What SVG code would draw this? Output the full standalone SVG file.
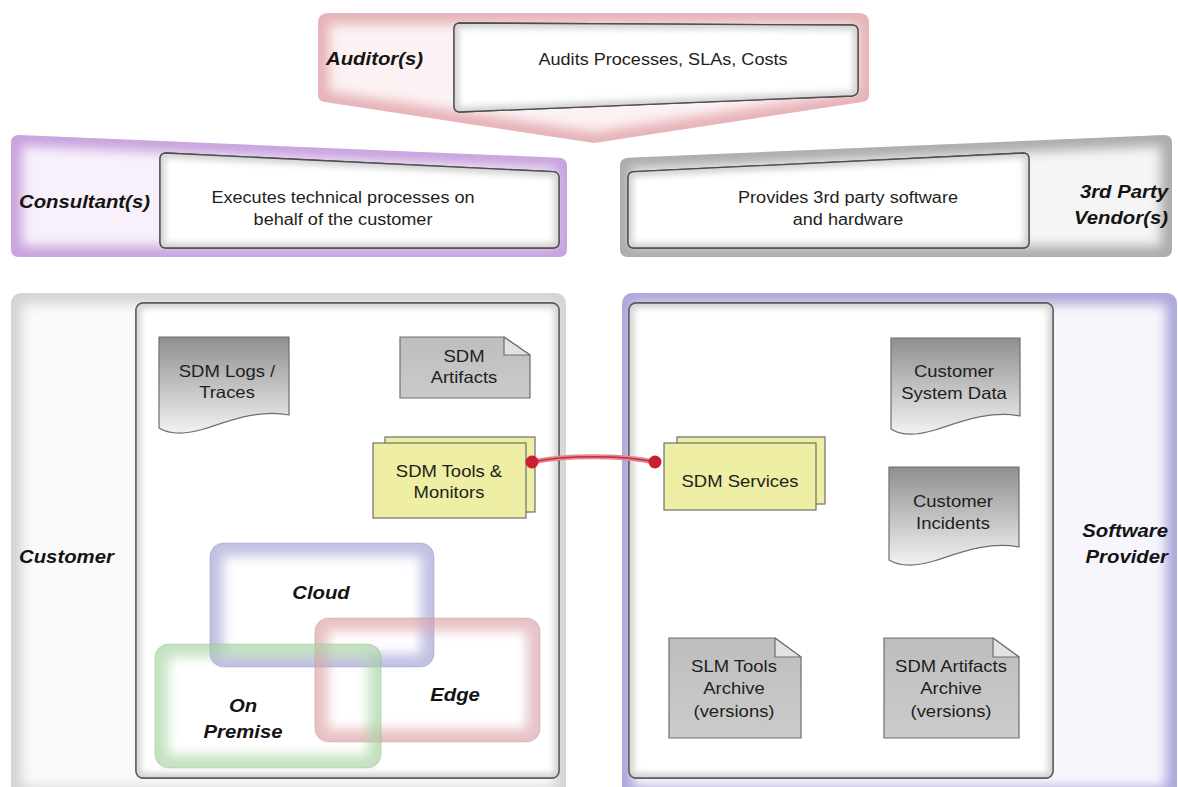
<svg xmlns="http://www.w3.org/2000/svg" width="1178" height="787" viewBox="0 0 1178 787">
<style>
  .lbl{font-family:"Liberation Sans",Arial,sans-serif;font-size:18px;font-weight:bold;font-style:italic;fill:#141414}
  .txt{font-family:"Liberation Sans",Arial,sans-serif;font-size:16px;fill:#1e1e1e}
  .doc{font-family:"Liberation Sans",Arial,sans-serif;font-size:16.5px;fill:#1e1e1e}
  .inner{fill:#ffffff;stroke:#4e4e4e;stroke-width:1.3}
  .ishade{fill:none;stroke:#d2d2d2;stroke-width:10}
  .yel{fill:#eeeea4;stroke:#6e6e6e;stroke-width:1.2}
  .docshape{fill:url(#gDoc);stroke:#6e6e6e;stroke-width:1.2}
  .note{fill:url(#gNote);stroke:#6e6e6e;stroke-width:1.2}
  .fold{fill:#e2e2e2;stroke:#6e6e6e;stroke-width:1.2;stroke-linejoin:round}
  .glow{fill:none;stroke-width:22}
  .zone{fill:none;stroke-width:26;stroke-opacity:0.65}
  .zline{fill:none;stroke-width:1.2;stroke-opacity:0.35}
</style>
<defs>
  <filter id="blur6" x="-10%" y="-10%" width="120%" height="120%"><feGaussianBlur stdDeviation="6"/></filter>
  <filter id="blur3" x="-10%" y="-10%" width="120%" height="120%"><feGaussianBlur stdDeviation="3"/></filter>
  <linearGradient id="gDoc" x1="0" y1="0" x2="0" y2="1">
    <stop offset="0" stop-color="#8f8f8f"/>
    <stop offset="1" stop-color="#f2f2f2"/>
  </linearGradient>
  <linearGradient id="gNote" x1="0" y1="0" x2="0" y2="1">
    <stop offset="0" stop-color="#bdbdbd"/>
    <stop offset="1" stop-color="#cbcbcb"/>
  </linearGradient>

  <!-- outer band shapes -->
  <path id="pAud" d="M328,13 H859 Q869,13 869,23 V95 Q869,101 862,102 L594,143 L325,102 Q318,101 318,95 V23 Q318,13 328,13 Z"/>
  <path id="pCon" d="M19,135 L559,157.7 Q567,158 567,166 V249 Q567,257 559,257 H19 Q11,257 11,249 V143 Q11,135 19,135 Z"/>
  <path id="pVen" d="M628,157.7 L1164,135 Q1172,135 1172,143 V249 Q1172,257 1164,257 H628 Q620,257 620,249 V166 Q620,158 628,157.7 Z"/>
  <rect id="rCus" x="11" y="293" width="555" height="505" rx="10"/>
  <rect id="rPro" x="622" y="293" width="555" height="505" rx="10"/>

  <!-- inner description boxes -->
  <path id="iAud" d="M460,23 L852,25 Q858,25 858,31 V90 Q858,95 852,96 L460,112 Q454,112 454,106 V29 Q454,23 460,23 Z"/>
  <path id="iCon" d="M166,153 L553,171.7 Q559,172 559,178 V242 Q559,248 553,248 H166 Q160,248 160,242 V159 Q160,153 166,153 Z"/>
  <path id="iVen" d="M634,171.7 L1023,153 Q1029,153 1029,159 V242 Q1029,248 1023,248 H634 Q628,248 628,242 V178 Q628,172 634,171.7 Z"/>
  <rect id="iCus" x="136" y="303" width="423" height="475" rx="7"/>
  <rect id="iPro" x="629" y="303" width="424" height="475" rx="7"/>

  <!-- deployment zones -->
  <rect id="zCloud" x="210" y="543" width="224" height="124" rx="14"/>
  <rect id="zEdge" x="315" y="618" width="225" height="124" rx="14"/>
  <rect id="zPrem" x="155" y="644" width="226" height="124" rx="14"/>

  <clipPath id="cAud"><use href="#pAud"/></clipPath>
  <clipPath id="cCon"><use href="#pCon"/></clipPath>
  <clipPath id="cVen"><use href="#pVen"/></clipPath>
  <clipPath id="cCus"><use href="#rCus"/></clipPath>
  <clipPath id="cPro"><use href="#rPro"/></clipPath>
  <clipPath id="ciAud"><use href="#iAud"/></clipPath>
  <clipPath id="ciCon"><use href="#iCon"/></clipPath>
  <clipPath id="ciVen"><use href="#iVen"/></clipPath>
  <clipPath id="ciCus"><use href="#iCus"/></clipPath>
  <clipPath id="ciPro"><use href="#iPro"/></clipPath>
  <clipPath id="czCloud"><use href="#zCloud"/></clipPath>
  <clipPath id="czEdge"><use href="#zEdge"/></clipPath>
  <clipPath id="czPrem"><use href="#zPrem"/></clipPath>
</defs>

<rect width="1178" height="787" fill="#ffffff"/>

<!-- Auditor band -->
<g id="auditor">
  <use href="#pAud" fill="#fcf2f3"/>
  <use href="#pAud" class="glow" stroke="#e6b2b8" filter="url(#blur6)" clip-path="url(#cAud)"/>
  <use href="#iAud" class="inner"/>
  <use href="#iAud" class="ishade" filter="url(#blur3)" clip-path="url(#ciAud)"/>
  <use href="#iAud" fill="none" stroke="#4e4e4e" stroke-width="1.3"/>
  <text class="lbl" transform="translate(326 65) scale(1.13 1)">Auditor(s)</text>
  <text class="txt" text-anchor="middle" transform="translate(663 65) scale(1.13 1)">Audits Processes, SLAs, Costs</text>
</g>

<!-- Consultant band -->
<g id="consultant">
  <use href="#pCon" fill="#f8f1fb"/>
  <use href="#pCon" class="glow" stroke="#c8a3dd" filter="url(#blur6)" clip-path="url(#cCon)"/>
  <use href="#iCon" class="inner"/>
  <use href="#iCon" class="ishade" filter="url(#blur3)" clip-path="url(#ciCon)"/>
  <use href="#iCon" fill="none" stroke="#4e4e4e" stroke-width="1.3"/>
  <text class="lbl" transform="translate(19 208) scale(1.13 1)">Consultant(s)</text>
  <text class="txt" text-anchor="middle" transform="translate(343 203) scale(1.13 1)"><tspan x="0">Executes technical processes on</tspan><tspan x="0" dy="22">behalf of the customer</tspan></text>
</g>

<!-- 3rd party vendor band -->
<g id="vendor">
  <use href="#pVen" fill="#f5f5f5"/>
  <use href="#pVen" class="glow" stroke="#acacac" filter="url(#blur6)" clip-path="url(#cVen)"/>
  <use href="#iVen" class="inner"/>
  <use href="#iVen" class="ishade" filter="url(#blur3)" clip-path="url(#ciVen)"/>
  <use href="#iVen" fill="none" stroke="#4e4e4e" stroke-width="1.3"/>
  <text class="txt" text-anchor="middle" transform="translate(848 203) scale(1.13 1)"><tspan x="0">Provides 3rd party software</tspan><tspan x="0" dy="22">and hardware</tspan></text>
  <text class="lbl" text-anchor="end" transform="translate(1168 198) scale(1.13 1)"><tspan x="0">3rd Party</tspan><tspan x="0" dy="26">Vendor(s)</tspan></text>
</g>

<!-- Customer container -->
<g id="customer">
  <use href="#rCus" fill="#fafafa"/>
  <use href="#rCus" class="glow" stroke="#d4d4d4" filter="url(#blur6)" clip-path="url(#cCus)"/>
  <use href="#iCus" class="inner"/>
  <use href="#iCus" class="ishade" stroke="#e6e6e6" filter="url(#blur3)" clip-path="url(#ciCus)"/>
  <use href="#iCus" fill="none" stroke="#5a5a5a" stroke-width="1.3"/>
  <text class="lbl" transform="translate(19 563) scale(1.13 1)">Customer</text>
</g>

<!-- Software provider container -->
<g id="provider">
  <use href="#rPro" fill="#f7f6fc"/>
  <use href="#rPro" class="glow" stroke="#aca7da" filter="url(#blur6)" clip-path="url(#cPro)"/>
  <use href="#iPro" class="inner"/>
  <use href="#iPro" class="ishade" stroke="#e6e6ee" filter="url(#blur3)" clip-path="url(#ciPro)"/>
  <use href="#iPro" fill="none" stroke="#5a5a5a" stroke-width="1.3"/>
  <text class="lbl" text-anchor="end" transform="translate(1168 537) scale(1.13 1)"><tspan x="0">Software</tspan><tspan x="0" dy="26">Provider</tspan></text>
</g>

<!-- Customer deployment zones -->
<g id="cloud">
  <use href="#zCloud" class="zone" stroke="#a0a0d6" filter="url(#blur6)" clip-path="url(#czCloud)"/>
  <use href="#zCloud" class="zline" stroke="#8484c0"/>
  <text class="lbl" text-anchor="middle" transform="translate(321 599) scale(1.13 1)">Cloud</text>
</g>
<g id="edge">
  <use href="#zEdge" class="zone" stroke="#dba2a6" filter="url(#blur6)" clip-path="url(#czEdge)"/>
  <use href="#zEdge" class="zline" stroke="#c08488"/>
  <text class="lbl" text-anchor="middle" transform="translate(455 701) scale(1.13 1)">Edge</text>
</g>
<g id="on-premise">
  <use href="#zPrem" class="zone" stroke="#a4d29e" filter="url(#blur6)" clip-path="url(#czPrem)"/>
  <use href="#zPrem" class="zline" stroke="#84b87e"/>
  <text class="lbl" text-anchor="middle" transform="translate(243 712) scale(1.13 1)"><tspan x="0">On</tspan><tspan x="0" dy="26">Premise</tspan></text>
</g>

<!-- Customer side items -->
<g id="sdm-logs">
  <path class="docshape" d="M159,337 H289 V415 C259,409 229,421 204,429 C184,435 169,434 159,428 Z"/>
  <text class="doc" text-anchor="middle" transform="translate(227 377) scale(1.12 1)"><tspan x="0">SDM Logs /</tspan><tspan x="0" dy="21">Traces</tspan></text>
</g>
<g id="sdm-artifacts">
  <path class="note" d="M400,337 H504 L530,355 V398 H400 Z"/>
  <path class="fold" d="M504,337 L530,355 H504 Z"/>
  <text class="doc" text-anchor="middle" transform="translate(464 362) scale(1.12 1)"><tspan x="0">SDM</tspan><tspan x="0" dy="21">Artifacts</tspan></text>
</g>
<g id="sdm-tools">
  <rect class="yel" x="385" y="437" width="150" height="75"/>
  <rect class="yel" x="373" y="443" width="153" height="75"/>
  <text class="doc" text-anchor="middle" transform="translate(449 477) scale(1.12 1)"><tspan x="0">SDM Tools &amp;</tspan><tspan x="0" dy="21">Monitors</tspan></text>
</g>

<!-- Provider side items -->
<g id="sdm-services">
  <rect class="yel" x="677" y="437" width="148" height="67"/>
  <rect class="yel" x="664" y="443" width="152" height="67"/>
  <text class="doc" text-anchor="middle" transform="translate(740 487) scale(1.12 1)">SDM Services</text>
</g>
<g id="customer-system-data">
  <path class="docshape" d="M891,338 H1020 V416 C990,410 960,422 935,430 C915,436 900,435 891,429 Z"/>
  <text class="doc" text-anchor="middle" transform="translate(954 377) scale(1.12 1)"><tspan x="0">Customer</tspan><tspan x="0" dy="22">System Data</tspan></text>
</g>
<g id="customer-incidents">
  <path class="docshape" d="M889,467 H1019 V547 C989,541 959,553 934,561 C914,567 899,566 889,560 Z"/>
  <text class="doc" text-anchor="middle" transform="translate(953 507) scale(1.12 1)"><tspan x="0">Customer</tspan><tspan x="0" dy="22">Incidents</tspan></text>
</g>
<g id="slm-tools-archive">
  <path class="note" d="M669,638 H775 L801,657 V738 H669 Z"/>
  <path class="fold" d="M775,638 L801,657 H775 Z"/>
  <text class="doc" text-anchor="middle" transform="translate(734 672) scale(1.12 1)"><tspan x="0">SLM Tools</tspan><tspan x="0" dy="22">Archive</tspan><tspan x="0" dy="23">(versions)</tspan></text>
</g>
<g id="sdm-artifacts-archive">
  <path class="note" d="M884,638 H993 L1019,657 V738 H884 Z"/>
  <path class="fold" d="M993,638 L1019,657 H993 Z"/>
  <text class="doc" text-anchor="middle" transform="translate(951 672) scale(1.12 1)"><tspan x="0">SDM Artifacts</tspan><tspan x="0" dy="22">Archive</tspan><tspan x="0" dy="23">(versions)</tspan></text>
</g>

<!-- Connectors -->
<g id="connectors">
  <path d="M532,462 C565,455 622,455 655,462" fill="none" stroke="#e48a96" stroke-width="5" stroke-linecap="round"/>
  <path d="M532,462 C565,455 622,455 655,462" fill="none" stroke="#c62b3c" stroke-width="1.5"/>
  <circle cx="532" cy="462" r="6.5" fill="#c91f30"/>
  <circle cx="655" cy="462" r="6.5" fill="#c91f30"/>
</g>
</svg>
